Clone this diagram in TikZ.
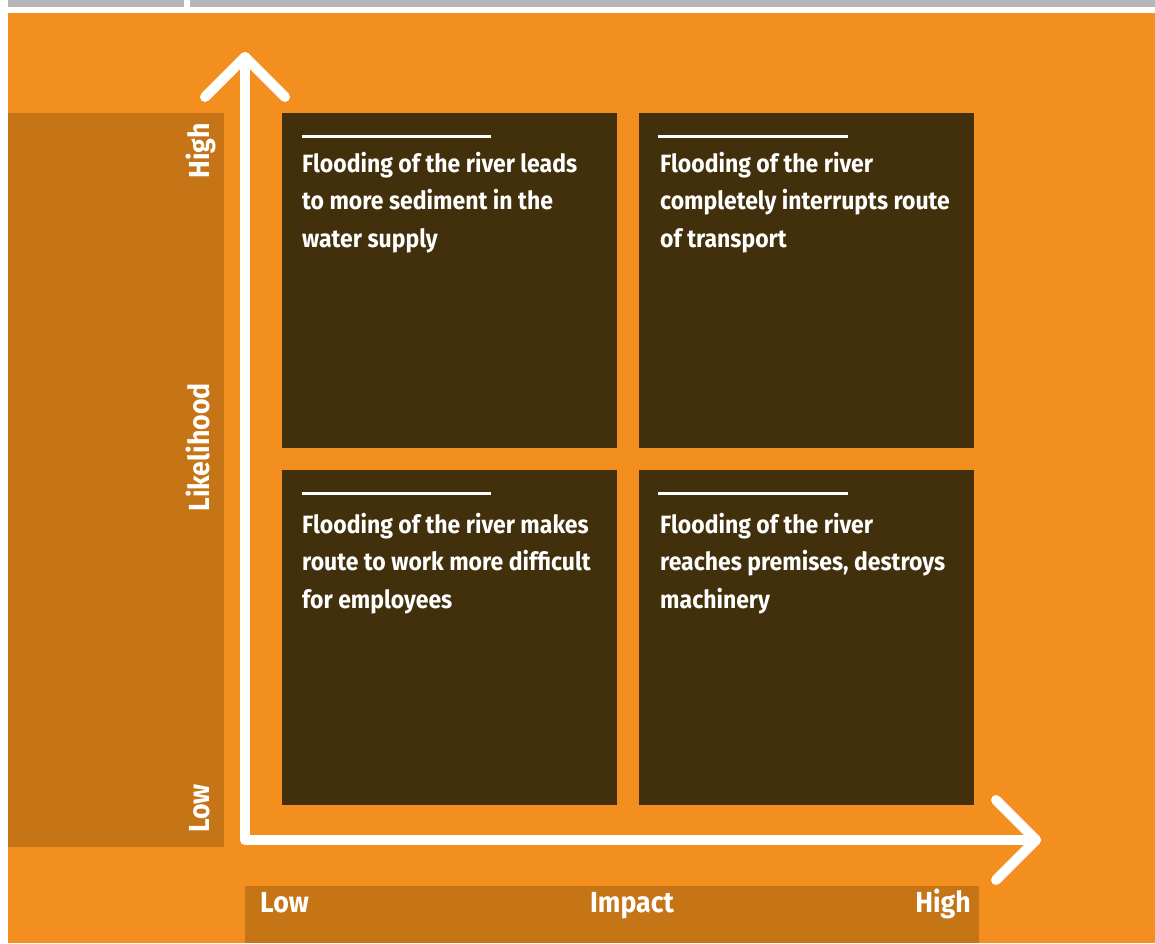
\documentclass[tikz,border=0pt]{standalone}
\usepackage{fontspec}
\setmainfont{Fira Sans}[FakeStretch=0.92]
\definecolor{orangec}{HTML}{F28F1F}
\definecolor{bandc}{HTML}{C57416}
\definecolor{brownc}{HTML}{42300C}
\definecolor{greyc}{HTML}{B5B6B8}
\begin{document}
\begin{tikzpicture}[x=1pt,y=-1pt,
  quad/.style={fill=brownc,draw=none,minimum width=335pt,minimum height=335pt,inner sep=0pt,anchor=north west},
  rulec/.style={white,line width=3pt},
  body/.style={font=\bfseries\fontsize{25}{37.5}\selectfont,text=white,align=left,inner sep=0pt,anchor=north west},
  axlab/.style={font=\bfseries\fontsize{29}{34}\selectfont,text=white,inner sep=0pt},
  axis/.style={white,line width=10pt,line cap=round,line join=round}]
\useasboundingbox (0,0) rectangle (1155,943);
\fill[white] (0,0) rectangle (1155,943);
\fill[greyc] (8,0) rectangle (184,7);
\fill[greyc] (190,0) rectangle (1155,7);
\fill[orangec] (8,13) rectangle (1155,943);
\fill[bandc] (8,113) rectangle (224,847);
\fill[bandc] (245,886) rectangle (979,943);
% quadrants
\node[quad] (q1) at (282,113) {};
\node[quad] (q2) at (639,113) {};
\node[quad] (q3) at (282,470) {};
\node[quad] (q4) at (639,470) {};
% rules
\draw[rulec] (302,136.5) -- (491,136.5);
\draw[rulec] (658,136.5) -- (848,136.5);
\draw[rulec] (302,493.5) -- (491,493.5);
\draw[rulec] (658,493.5) -- (848,493.5);
% texts
\node[body] (t1) at (302,152) {Flooding of the river leads\\to more sediment in the\\water supply};
\node[body] (t2) at (660,152) {Flooding of the river\\completely interrupts route\\of transport};
\node[body] (t3) at (302,513) {Flooding of the river makes\\route to work more difficult\\for employees};
\node[body] (t4) at (660,513) {Flooding of the river\\reaches premises, destroys\\machinery};
% axes
\coordinate (ytop) at (245,57);
\coordinate (orig) at (245,840);
\coordinate (xend) at (1036,840);
\draw[axis] (ytop) -- (orig) -- (xend);
\draw[axis] (205,97) -- (ytop) -- (285,97);
\draw[axis] (996,800) -- (xend) -- (996,880);
% axis labels
\node[axlab,rotate=90,anchor=base east] (yhigh) at (209,123) {High};
\node[axlab,rotate=90,anchor=base] (ylab) at (209,447.5) {Likelihood};
\node[axlab,rotate=90,anchor=base west] (ylow) at (209,833) {Low};
\node[axlab,anchor=base west] (xlow) at (260,912) {Low};
\node[axlab,anchor=base] (xlab) at (632,912) {Impact};
\node[axlab,anchor=base east] (xhigh) at (971,912) {High};
\end{tikzpicture}
\end{document}
